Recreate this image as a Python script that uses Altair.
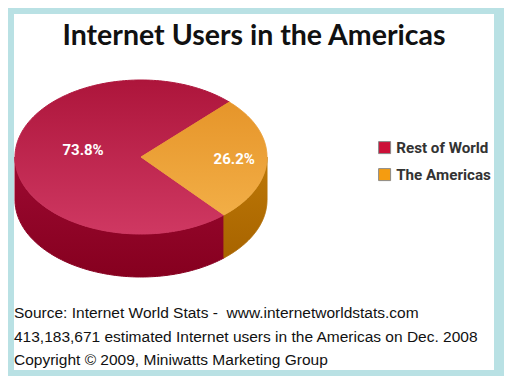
import altair as alt
import numpy as np
import pandas as pd

# ---- data ----
categories = ["Rest of World", "The Americas"]
shares = [73.8, 26.2]
label_texts = ["73.8%", "26.2%"]
legend_colors = ["#cc1038", "#f59c10"]
top_gradients = [["#ad153b", "#cf3862"], ["#e6952a", "#f2ae46"]]
side_gradients = [["#9c0a32", "#86001f"], ["#bd7806", "#a86400"]]
title_text = "Internet Users in the Americas"
footer_lines = [
    "Source: Internet World Stats -\u00a0 www.internetworldstats.com",
    "413,183,671 estimated Internet users in the Americas on Dec. 2008",
    "Copyright \u00a9 2009, Miniwatts Marketing Group",
]

# ---- layout (page pixel coordinates) ----
W, H = 496, 368
xs = alt.Scale(domain=[8, 8 + W], nice=False, zero=False)
ys = alt.Scale(domain=[8, 8 + H], nice=False, zero=False, reverse=True)
cx, cy, rx, ry, depth = 141, 157, 126, 77, 43
start_deg = 45.5
label_radius = [0.46, 0.74]
label_dy = [-6, 0]
narrow_font = "Roboto"

def pt(theta_deg, dy=0.0):
    t = np.radians(theta_deg)
    return cx + rx * np.cos(t), cy - ry * np.sin(t) + dy

def grad(c):
    return alt.Gradient(gradient="linear",
                        stops=[alt.GradientStop(color=c[0], offset=0),
                               alt.GradientStop(color=c[1], offset=1)],
                        x1=0, x2=0, y1=0, y2=1)

def poly_layer(xsv, ysv, colors):
    df = pd.DataFrame({"x": xsv, "y": ysv, "i": np.arange(len(xsv))})
    g = grad(colors)
    return alt.Chart(df).mark_line(fill=g, stroke=g, strokeWidth=1, interpolate="linear").encode(
        x=alt.X("x:Q", scale=xs, axis=None),
        y=alt.Y("y:Q", scale=ys, axis=None),
        order="i:Q",
    )

# slice boundaries (counter-clockwise)
bounds = []
a = start_deg
for s in shares:
    b = a + s * 3.6
    bounds.append((a, b))
    a = b

side_layers, top_layers, labels = [], [], []
for k, (a0, a1) in enumerate(bounds):
    for lo, hi in [(180, 360), (540, 720)]:
        s0, s1 = max(a0, lo), min(a1, hi)
        if s1 > s0:
            th = np.linspace(s0, s1, 120)
            xt, yt = pt(th)
            xb, yb = pt(th[::-1], depth)
            side_layers.append(poly_layer(np.concatenate([xt, xb, xt[:1]]),
                                          np.concatenate([yt, yb, yt[:1]]), side_gradients[k]))
    th = np.linspace(a0, a1, 200)
    xa, ya = pt(th)
    top_layers.append(poly_layer(np.concatenate([[cx], xa, [cx]]),
                                 np.concatenate([[cy], ya, [cy]]), top_gradients[k]))
    mid = np.radians((a0 + a1) / 2)
    labels.append({"t": label_texts[k],
                   "x": cx + label_radius[k] * rx * np.cos(mid),
                   "y": cy - label_radius[k] * ry * np.sin(mid) + label_dy[k]})

one = pd.DataFrame({"a": [0]})

legend_layer = alt.Chart(pd.DataFrame({"category": categories})).mark_square(
    size=10, stroke="#8a8a8a", strokeWidth=1, opacity=1
).encode(
    x=alt.XDatum(100, scale=xs, axis=None),
    y=alt.YDatum(100, scale=ys, axis=None),
    color=alt.Color("category:N",
                    scale=alt.Scale(domain=categories, range=legend_colors),
                    legend=alt.Legend(title=None, orient="none", legendX=369, legendY=132,
                                      symbolType="square", symbolSize=144,
                                      symbolStrokeColor="#8a8a8a", symbolStrokeWidth=1,
                                      symbolOpacity=1,
                                      labelFont=narrow_font,
                                      labelFontSize=15.2, labelFontWeight="bold",
                                      labelColor="#333333", labelOffset=4, rowPadding=10,
                                      padding=0)),
)

white = alt.Chart(one).mark_rect(color="white").encode(
    x=alt.XDatum(14, scale=xs, axis=None), x2=alt.datum(494),
    y=alt.YDatum(14, scale=ys, axis=None), y2=alt.datum(370),
)

title = alt.Chart(one).mark_text(
    text=title_text, font="Lato", fontSize=28.5, fontWeight="bold", color="#111111",
    align="center", baseline="alphabetic",
).encode(x=alt.XDatum(254, scale=xs, axis=None), y=alt.YDatum(45, scale=ys, axis=None))

lab = alt.Chart(pd.DataFrame(labels)).mark_text(
    font=narrow_font, fontSize=15, fontWeight="bold", color="white", align="center", baseline="middle",
).encode(x=alt.X("x:Q", scale=xs, axis=None), y=alt.Y("y:Q", scale=ys, axis=None), text="t:N")

foot_df = pd.DataFrame({"t": footer_lines, "y": [318 + 23.5 * i for i in range(len(footer_lines))]})
foot = alt.Chart(foot_df).mark_text(
    font="Liberation Sans, Arial", fontSize=15.5, color="#111111", align="left", baseline="alphabetic",
).encode(x=alt.XDatum(14, scale=xs, axis=None), y=alt.Y("y:Q", scale=ys, axis=None), text="t:N")

chart = alt.layer(legend_layer, white, title, *side_layers, *top_layers, lab, foot).properties(
    width=W, height=H, autosize=alt.AutoSizeParams(type="none"), padding=0,
    background="#b9e1e4",
).configure_view(stroke=None)

chart.save("out.html", embed_options={"renderer": "svg", "actions": False})
